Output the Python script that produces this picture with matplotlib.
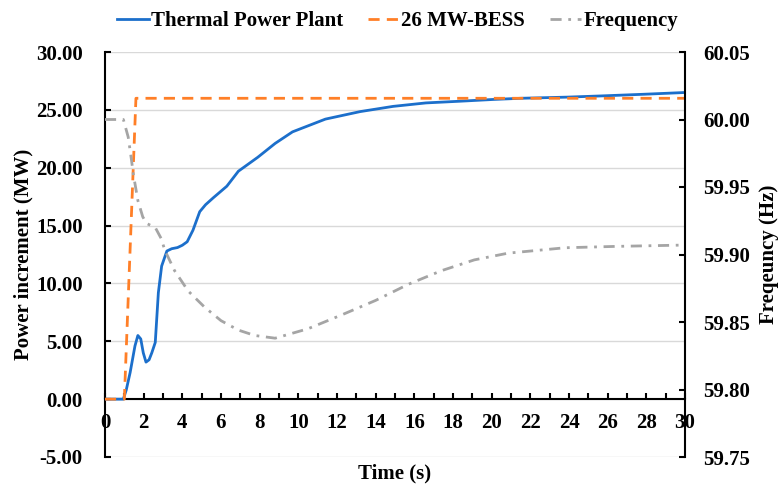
import matplotlib
matplotlib.use("Agg")
import matplotlib.pyplot as plt
from matplotlib.ticker import MultipleLocator, FormatStrFormatter

plt.rcParams["font.family"] = ["Liberation Serif", "DejaVu Serif"]
plt.rcParams["font.weight"] = "bold"
plt.rcParams["font.size"] = 15

# thermal plant power increment (MW)
t_thermal = [0, 0.95, 1.1, 1.3, 1.55, 1.7, 1.85, 1.98, 2.12, 2.28, 2.42, 2.6,
             2.76, 2.93, 3.2, 3.45, 3.75, 4.0, 4.25, 4.55, 4.9, 5.2, 5.6,
             6.3, 6.9, 7.9, 8.8, 9.7, 11.4, 13.2, 14.9, 16.6, 18.4, 20.1,
             21.5, 23.9, 25.6, 27.9, 30]
p_thermal = [0, 0, 0.8, 2.3, 4.6, 5.5, 5.2, 4.0, 3.2, 3.4, 4.0, 4.9, 9.2,
             11.5, 12.8, 13.0, 13.1, 13.3, 13.6, 14.6, 16.2, 16.8, 17.4,
             18.4, 19.7, 20.9, 22.1, 23.1, 24.2, 24.85, 25.3, 25.6, 25.75,
             25.9, 26.0, 26.1, 26.2, 26.35, 26.5]

# 26 MW BESS power increment (MW)
t_bess = [0, 1.0, 1.6, 30]
p_bess = [0, 0, 26.0, 26.0]

# system frequency (Hz)
t_freq = [0, 0.95, 1.2, 1.37, 1.46, 1.7, 1.95, 2.15, 2.6, 2.9, 3.1, 3.6,
          4.3, 5.15, 6.0, 6.9, 7.75, 8.8, 10.5, 12.2, 14.0, 15.7, 17.4,
          19.1, 20.85, 23.8, 26.4, 30]
f_freq = [60.000, 60.000, 59.987, 59.970, 59.960, 59.940, 59.928, 59.923,
          59.920, 59.912, 59.903, 59.888, 59.873, 59.861, 59.851, 59.844,
          59.840, 59.838, 59.845, 59.855, 59.866, 59.878, 59.888, 59.896,
          59.901, 59.905, 59.906, 59.907]

BLUE, ORANGE, GRAY = "#1c6fcb", "#ff7f27", "#a5a5a5"

fig = plt.figure(figsize=(7.8, 4.84), dpi=100)
ax = fig.add_axes([105 / 780, 1 - 457 / 484, 580 / 780, 405 / 484])
ax2 = ax.twinx()

l1, = ax.plot(t_thermal, p_thermal, color=BLUE, lw=2.0, zorder=3,
              label="Thermal Power Plant")
l2, = ax.plot(t_bess, p_bess, color=ORANGE, lw=2.0, zorder=4,
              linestyle=(0, (4, 2.6)), label="26 MW-BESS")
l3, = ax2.plot(t_freq, f_freq, color=GRAY, lw=2.0,
               linestyle=(0, (4, 2.4, 1, 2.4)), label="Frequency")

ax.set_xlim(0, 30)
ax.set_ylim(-5, 30)
ax2.set_ylim(59.75, 60.05)

ax.xaxis.set_major_locator(MultipleLocator(2))
ax.xaxis.set_minor_locator(MultipleLocator(1))
ax.yaxis.set_major_locator(MultipleLocator(5))
ax.yaxis.set_major_formatter(FormatStrFormatter("%.2f"))
ax2.yaxis.set_major_locator(MultipleLocator(0.05))
ax2.yaxis.set_major_formatter(FormatStrFormatter("%.2f"))

ax.grid(axis="y", color="#d9d9d9", lw=1.0, zorder=0)
ax.set_axisbelow(True)

ax.spines["bottom"].set_position(("data", 0))
for side in ("top", "right"):
    ax.spines[side].set_visible(False)
for side in ("top", "bottom", "left"):
    ax2.spines[side].set_visible(False)
for sp in (ax.spines["left"], ax.spines["bottom"], ax2.spines["right"]):
    sp.set_linewidth(1.5)
    sp.set_color("black")

ax.tick_params(axis="x", which="both", direction="in", length=4, width=1.5,
               pad=10, labelsize=15)
ax.tick_params(axis="y", direction="in", length=4, width=1.5, pad=16,
               labelsize=15)
ax2.tick_params(axis="y", direction="in", length=4, width=1.5, pad=13,
                labelsize=15)

ax.set_xlabel("Time (s)", fontsize=15, fontweight="bold")
ax.xaxis.set_label_coords(0.5, -0.015)
ax.set_ylabel("Power increment (MW)", fontsize=15, fontweight="bold")
ax.yaxis.set_label_coords(-0.123, 0.5)
ax2.set_ylabel("Freqeuncy (Hz)", fontsize=15, fontweight="bold")
ax2.yaxis.set_label_coords(1.127, 0.5)

fig.legend(handles=[l1, l2, l3], loc="center", ncol=3, frameon=False,
           bbox_to_anchor=(0.51, 1 - 21 / 484), fontsize=15,
           handlelength=1.5, handletextpad=0.1, columnspacing=1.2)

fig.savefig("out.png", dpi=100)
